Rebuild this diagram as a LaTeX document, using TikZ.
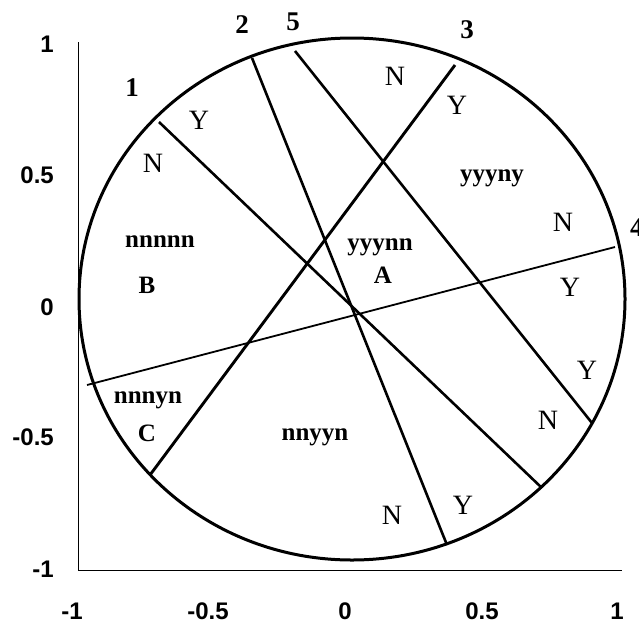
\documentclass[tikz,border=0pt]{standalone}
\usepackage{fontspec}
\setmainfont{Liberation Serif}
\newfontfamily\axfont{Liberation Sans}
\begin{document}
\begin{tikzpicture}[x=1pt,y=-1pt,
  axisline/.style={line width=1pt},
  rim/.style={line width=3pt},
  chord/.style={line width=2.6pt},
  ticklab/.style={font=\axfont\bfseries\fontsize{24}{24}\selectfont, inner sep=0pt},
  yn/.style={font=\fontsize{28}{28}\selectfont, inner sep=0pt},
  reg/.style={font=\bfseries\fontsize{25}{25}\selectfont, inner sep=0pt},
  linelab/.style={font=\bfseries\fontsize{27}{27}\selectfont, inner sep=0pt}]
\useasboundingbox (0,0) rectangle (639,624);
\clip (0,0) rectangle (639,624);
% axes
\coordinate (top) at (78,42);
\coordinate (orig) at (78,570);
\coordinate (right) at (622,570);
\draw[axisline] (top) -- (orig) -- (right);
% tick labels
\node[ticklab, anchor=east] (y1) at (54,44) {1};
\node[ticklab, anchor=east] (y05) at (54,175) {0.5};
\node[ticklab, anchor=east] (y0) at (54,307) {0};
\node[ticklab, anchor=east] (ym05) at (54,437) {-0.5};
\node[ticklab, anchor=east] (ym1) at (54,569) {-1};
\node[ticklab] (xm1) at (72,611) {-1};
\node[ticklab] (xm05) at (208,611) {-0.5};
\node[ticklab] (x0) at (345,611) {0};
\node[ticklab] (x05) at (482,611) {0.5};
\node[ticklab] (x1) at (617,611) {1};
% circle
\draw[rim] (352,299) ellipse [x radius=273, y radius=261];
% chord end points
\coordinate (a1) at (159,122); \coordinate (b1) at (542,488);
\coordinate (a2) at (252,58);  \coordinate (b2) at (447,545);
\coordinate (a3) at (455,65);  \coordinate (b3) at (150,475);
\coordinate (a4) at (615,247); \coordinate (b4) at (87,385);
\coordinate (a5) at (295,51);  \coordinate (b5) at (592,423);
\draw[chord] (a1) -- (b1);
\draw[chord] (a2) -- (b2);
\draw[chord, line width=2.9pt] (a3) -- (b3);
\draw[chord, line width=1.8pt] (a4) -- (b4);
\draw[chord] (a5) -- (b5);
% line numbers
\node[linelab] (n1) at (132,88) {1};
\node[linelab] (n2) at (242,25) {2};
\node[linelab] (n5) at (293,22) {5};
\node[linelab] (n3) at (467,30) {3};
\node[linelab, anchor=west] (n4) at (630,228) {4};
% Y / N
\node[yn] (y1l) at (199,120) {Y};
\node[yn] (n1l) at (153,163) {N};
\node[yn] (n5l) at (395,76) {N};
\node[yn] (y3l) at (457,105) {Y};
\node[yn] (n4l) at (563,222) {N};
\node[yn] (y4l) at (570,287) {Y};
\node[yn] (y5l) at (587,370) {Y};
\node[yn] (n5b) at (548,420) {N};
\node[yn] (y2b) at (463,505) {Y};
\node[yn] (n2b) at (392,515) {N};
% regions
\node[reg] (r1) at (160,242) {nnnnn};
\node[reg] (rB) at (147,285) {B};
\node[reg] (r2) at (492,178) {yyyny};
\node[reg] (r3) at (380,247) {yyynn};
\node[reg] (rA) at (383,275) {A};
\node[reg] (r4) at (148,400) {nnnyn};
\node[reg] (rC) at (147,433) {C};
\node[reg] (r5) at (315,437) {nnyyn};
\end{tikzpicture}
\end{document}
